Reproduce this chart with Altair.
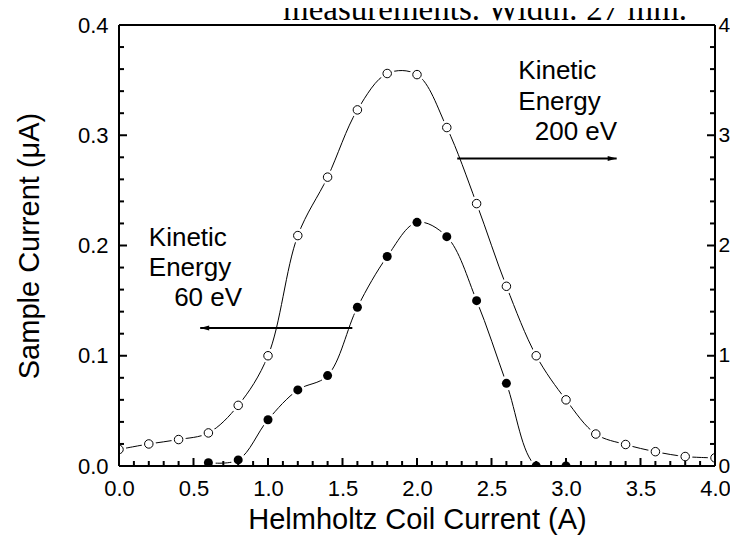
import altair as alt
import pandas as pd

# ---- data ----
x_60 = [0.6, 0.8, 1.0, 1.2, 1.4, 1.6, 1.8, 2.0, 2.2, 2.4, 2.6, 2.8, 3.0]
y_60 = [0.003, 0.0055, 0.042, 0.069, 0.082, 0.144, 0.190, 0.221, 0.208, 0.150, 0.075, 0.0, 0.0]

x_200 = [0.0, 0.2, 0.4, 0.6, 0.8, 1.0, 1.2, 1.4, 1.6, 1.8, 2.0,
         2.2, 2.4, 2.6, 2.8, 3.0, 3.2, 3.4, 3.6, 3.8, 4.0]
y_200 = [0.15, 0.20, 0.24, 0.30, 0.55, 1.0, 2.09, 2.62, 3.23, 3.56, 3.55,
         3.07, 2.38, 1.63, 1.0, 0.60, 0.29, 0.195, 0.13, 0.086, 0.074]

x_major = [0.0, 0.5, 1.0, 1.5, 2.0, 2.5, 3.0, 3.5, 4.0]
x_minor = [round(i * 0.1, 1) for i in range(41) if i % 5]
yl_major = [0.0, 0.1, 0.2, 0.3, 0.4]
yl_minor = [round(i * 0.02, 2) for i in range(21) if i % 5]
yr_major = [0, 1, 2, 3, 4]
yr_minor = [round(i * 0.2, 1) for i in range(21) if i % 5]

ann60_x = [0.20, 0.20, 0.37]
ann60_y = [0.2066, 0.1794, 0.1521]
ann60_t = ["Kinetic", "Energy", "60 eV"]
ann200_x = [2.68, 2.68, 2.79]
ann200_y = [3.585, 3.30, 3.03]
ann200_t = ["Kinetic", "Energy", "200 eV"]

arrow60_from, arrow60_to, arrow60_y = 1.566, 0.545, 0.1251
arrow200_from, arrow200_to, arrow200_y = 2.27, 3.34, 2.79

caption = "measurements. Width: 27 mm."

# ---- styling ----
FONT = "Liberation Sans"
W, H = 596, 441

xs = alt.Scale(domain=[0, 4], nice=False, zero=False)
yls = alt.Scale(domain=[0, 0.4], nice=False, zero=False)
yrs = alt.Scale(domain=[0, 4], nice=False, zero=False)

common_axis = dict(
    ticks=False, domain=False, grid=False,
    labelFont=FONT, labelColor="black",
    titleFont=FONT, titleFontSize=29, titleFontWeight="normal", titleColor="black",
    labelFlush=False, labelOverlap=False,
)

x_axis = alt.Axis(orient="bottom", values=x_major, format=".1f", labelPadding=12, labelFontSize=22,
                  title="Helmholtz Coil Current (A)", titlePadding=6, **common_axis)
yl_axis = alt.Axis(orient="left", values=yl_major, format=".1f", labelPadding=11, labelFontSize=22,
                   title="Sample Current (μA)", titlePadding=33, **common_axis)
yr_axis = alt.Axis(orient="right", values=yr_major, format="d", labelPadding=3, labelFontSize=21,
                   title=None, **common_axis)

df60 = pd.DataFrame({"x": x_60, "y": y_60})
df200 = pd.DataFrame({"x": x_200, "y": y_200})

XN = alt.X("x:Q", scale=xs, axis=None)

# ---- 60 eV (left axis) ----
line60 = alt.Chart(df60).mark_line(interpolate="catmull-rom", color="black", strokeWidth=1, clip=True).encode(
    x=alt.X("x:Q", scale=xs, axis=x_axis),
    y=alt.Y("y:Q", scale=yls, axis=yl_axis),
)
halo60 = alt.Chart(df60).mark_circle(color="white", size=210, opacity=1, clip=True).encode(
    x=XN, y=alt.Y("y:Q", scale=yls, axis=None))
pts60 = alt.Chart(df60).mark_circle(color="black", size=81, opacity=1, clip=True).encode(
    x=XN, y=alt.Y("y:Q", scale=yls, axis=None))

# ---- 200 eV (right axis) ----
line200 = alt.Chart(df200).mark_line(interpolate="catmull-rom", color="black", strokeWidth=1, clip=True).encode(
    x=XN,
    y=alt.Y("y:Q", scale=yrs, axis=yr_axis),
)
halo200 = alt.Chart(df200).mark_circle(color="white", size=210, opacity=1, clip=True).encode(
    x=XN, y=alt.Y("y:Q", scale=yrs, axis=None))
pts200 = alt.Chart(df200).mark_point(shape="circle", filled=True, fill="white", stroke="black",
                                     strokeWidth=1, size=72, opacity=1, clip=True).encode(
    x=XN, y=alt.Y("y:Q", scale=yrs, axis=None))

# ---- annotations ----
text60 = alt.Chart(pd.DataFrame({"x": ann60_x, "y": ann60_y, "t": ann60_t})).mark_text(
    align="left", baseline="middle", font=FONT, fontSize=26, color="black").encode(
    x=XN, y=alt.Y("y:Q", scale=yls, axis=None), text="t:N")
text200 = alt.Chart(pd.DataFrame({"x": ann200_x, "y": ann200_y, "t": ann200_t})).mark_text(
    align="left", baseline="middle", font=FONT, fontSize=26, color="black").encode(
    x=XN, y=alt.Y("y:Q", scale=yrs, axis=None), text="t:N")

arr60_df = pd.DataFrame({"x": [arrow60_from], "x2": [arrow60_to], "y": [arrow60_y]})
arr60_line = alt.Chart(arr60_df).mark_rule(color="black", strokeWidth=2).encode(
    x=XN, x2="x2:Q", y=alt.Y("y:Q", scale=yls, axis=None))
arr60_head = alt.Chart(arr60_df).mark_point(
    shape="M0,0L2,-0.55L2,0.55Z", filled=True, color="black", size=81, opacity=1).encode(
    x=alt.X("x2:Q", scale=xs, axis=None), y=alt.Y("y:Q", scale=yls, axis=None))

arr200_df = pd.DataFrame({"x": [arrow200_from], "x2": [arrow200_to], "y": [arrow200_y]})
arr200_line = alt.Chart(arr200_df).mark_rule(color="black", strokeWidth=2).encode(
    x=XN, x2="x2:Q", y=alt.Y("y:Q", scale=yrs, axis=None))
arr200_head = alt.Chart(arr200_df).mark_point(
    shape="M0,0L-2,-0.55L-2,0.55Z", filled=True, color="black", size=81, opacity=1).encode(
    x=alt.X("x2:Q", scale=xs, axis=None), y=alt.Y("y:Q", scale=yrs, axis=None))

# ---- inward ticks ----
def xticks(vals, length):
    return alt.Chart(pd.DataFrame({"v": vals})).mark_rule(color="black", strokeWidth=2).encode(
        x=alt.X("v:Q", scale=xs, axis=None), y=alt.value(H), y2=alt.value(H - length))

def yticks(vals, scale, x0, x1):
    return alt.Chart(pd.DataFrame({"v": vals})).mark_rule(color="black", strokeWidth=2).encode(
        y=alt.Y("v:Q", scale=scale, axis=None), x=alt.value(x0), x2=alt.value(x1))

tick_layers = [
    xticks(x_major, 8), xticks(x_minor, 5),
    yticks(yl_major, yls, 0, 8), yticks(yl_minor, yls, 0, 5),
    yticks(yr_major, yrs, W, W - 8), yticks(yr_minor, yrs, W, W - 5),
]

# ---- frame ----
one = pd.DataFrame({"k": [0]})
frame = [
    alt.Chart(one).mark_rule(color="black", strokeWidth=2).encode(x=alt.value(0), x2=alt.value(W), y=alt.value(0)),
    alt.Chart(one).mark_rule(color="black", strokeWidth=2).encode(x=alt.value(0), x2=alt.value(W), y=alt.value(H)),
    alt.Chart(one).mark_rule(color="black", strokeWidth=2).encode(x=alt.value(0), y=alt.value(0), y2=alt.value(H)),
    alt.Chart(one).mark_rule(color="black", strokeWidth=2).encode(x=alt.value(W), y=alt.value(0), y2=alt.value(H)),
]

cap = alt.Chart(pd.DataFrame({"t": [caption]})).mark_text(
    align="left", baseline="alphabetic", font="Liberation Serif", fontSize=33, color="black").encode(
    x=alt.value(164), y=alt.value(-5), text="t:N")

chart = alt.layer(
    line60, line200, halo60, halo200, pts60, pts200,
    text60, text200, arr60_line, arr60_head, arr200_line, arr200_head,
    *tick_layers, *frame, cap,
).resolve_scale(
    y="independent"
).resolve_axis(
    x="independent", y="independent"
).properties(
    width=W, height=H,
    autosize=alt.AutoSizeParams(type="none"),
    padding={"left": 111, "top": 17, "right": 15, "bottom": 70},
    background="white",
).configure_view(stroke=None)

chart.save("out.html", embed_options={"renderer": "svg", "actions": False})
